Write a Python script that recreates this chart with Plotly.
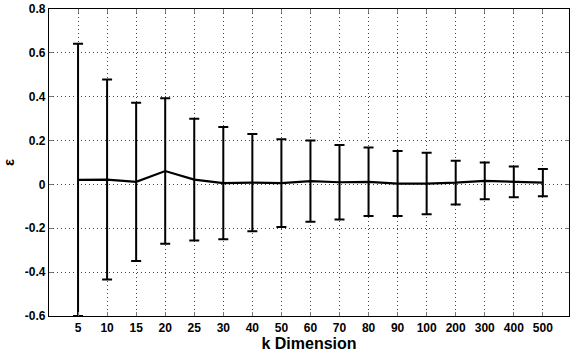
import plotly.graph_objects as go

categories = ["5", "10", "15", "20", "25", "30", "40", "50", "60", "70",
              "80", "90", "100", "200", "300", "400", "500"]
mean_eps = [0.021, 0.022, 0.012, 0.061, 0.022, 0.006, 0.008, 0.006, 0.015, 0.010,
            0.012, 0.004, 0.004, 0.008, 0.016, 0.012, 0.008]
err_eps = [0.621, 0.456, 0.361, 0.332, 0.278, 0.256, 0.222, 0.200, 0.185, 0.170,
           0.156, 0.148, 0.140, 0.100, 0.084, 0.070, 0.062]
y_ticks = [-0.6, -0.4, -0.2, 0, 0.2, 0.4, 0.6, 0.8]
y_tick_labels = ["-0.6", "-0.4", "-0.2", "0", "0.2", "0.4", "0.6", "0.8"]

x_idx = list(range(len(categories)))

fig = go.Figure()
fig.add_trace(go.Scatter(
    x=x_idx, y=mean_eps, mode="lines",
    line=dict(color="black", width=2.2),
    error_y=dict(type="data", array=err_eps, visible=True,
                 color="black", thickness=2, width=5),
    showlegend=False,
))

font_family = "Liberation Sans, Arial, sans-serif"
fig.update_layout(
    width=570, height=360,
    margin=dict(l=45, r=0, t=9, b=44),
    paper_bgcolor="white", plot_bgcolor="white",
    font=dict(family=font_family, color="black", size=12),
)
grid_style = dict(showgrid=True, gridcolor="#444", griddash="1px,3px", gridwidth=1)
fig.update_xaxes(
    range=[-1, 16.9],
    tickmode="array", tickvals=x_idx, ticktext=categories,
    tickfont=dict(family=font_family, size=12, weight="bold"),
    showline=True, linecolor="black", linewidth=1.3, mirror="ticks",
    ticks="inside", ticklen=4, tickcolor="#777",
    zeroline=False,
    title=dict(text="k Dimension", font=dict(size=16, weight="bold"), standoff=4),
    **grid_style,
)
fig.update_yaxes(
    range=[-0.6, 0.8],
    tickmode="array", tickvals=y_ticks, ticktext=y_tick_labels,
    tickfont=dict(family=font_family, size=12, weight="bold"),
    showline=True, linecolor="black", linewidth=1.3, mirror="ticks",
    ticks="inside", ticklen=4, tickcolor="#777",
    zeroline=False,
    title=dict(text="ε", font=dict(size=15, weight="bold"), standoff=14),
    **grid_style,
)

fig.write_html("out.html")
